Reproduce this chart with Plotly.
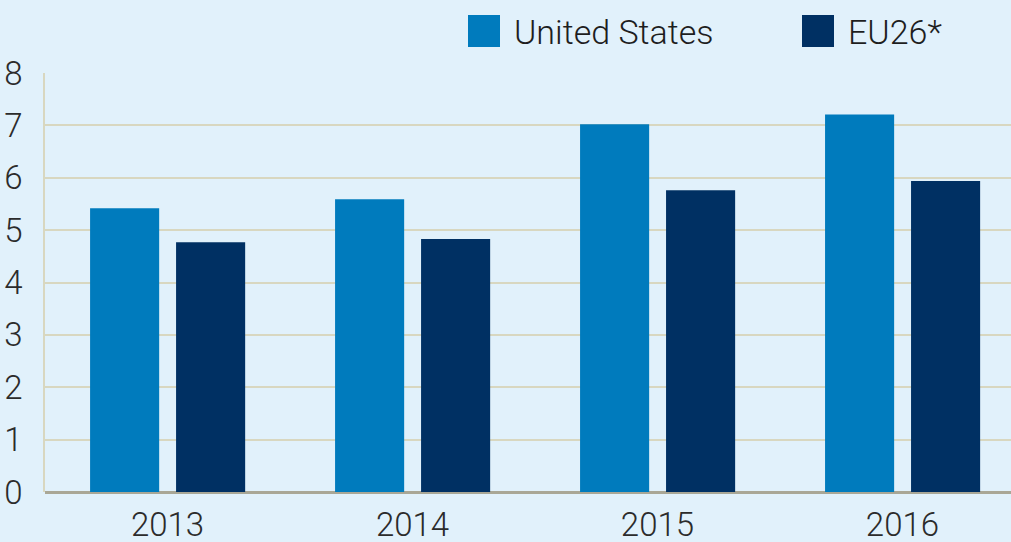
import plotly.graph_objects as go

years = ["2013", "2014", "2015", "2016"]
us_values = [5.42, 5.59, 7.02, 7.21]
eu_values = [4.77, 4.83, 5.76, 5.94]
series_names = ["United States", "EU26*"]
y_ticks = [0, 1, 2, 3, 4, 5, 6, 7, 8]

US_COLOR = "#007bbd"
EU_COLOR = "#003063"
BG = "#e1f1fb"
FONT = dict(family="Roboto, DejaVu Sans, sans-serif", color="#2b2b2b", size=33, weight=300)

fig = go.Figure()
fig.add_trace(go.Bar(x=years, y=us_values, name=series_names[0], marker_color=US_COLOR,
                     marker_line_width=0, width=0.282, offset=-0.316, showlegend=False))
fig.add_trace(go.Bar(x=years, y=eu_values, name=series_names[1], marker_color=EU_COLOR,
                     marker_line_width=0, width=0.282, offset=0.035, showlegend=False))

fig.update_layout(
    width=1011, height=542,
    margin=dict(l=45, r=0, t=73, b=50),
    paper_bgcolor=BG, plot_bgcolor=BG,
    font=FONT,
    barmode="group",
)
fig.update_xaxes(
    type="category", range=[-0.5, 3.443], automargin=False,
    showgrid=False, showline=False, zeroline=False,
    ticks="", ticklabelstandoff=10, tickfont=FONT,
)
fig.update_yaxes(
    range=[0, 8], tickvals=y_ticks, automargin=False,
    showgrid=True, gridcolor="#d8d7c0", gridwidth=1.5,
    showline=True, linecolor="#d8d7c0", linewidth=1.5,
    zeroline=True, zerolinecolor="#a9a796", zerolinewidth=2.5,
    ticks="", ticklabelstandoff=14, tickfont=FONT,
)

# legend drawn manually (large square swatches), pixel -> paper conversion
PL, PW, PB, PH = 45, 966, 492, 419
def px(x):
    return (x - PL) / PW
def py(y):
    return (PB - y) / PH

legend_items = [(series_names[0], US_COLOR, 468), (series_names[1], EU_COLOR, 802)]
for name, color, x0 in legend_items:
    fig.add_shape(type="rect", xref="paper", yref="paper",
                  x0=px(x0), x1=px(x0 + 32), y0=py(47), y1=py(15),
                  fillcolor=color, line_width=0, layer="above")
    fig.add_annotation(text=name, xref="paper", yref="paper",
                       x=px(x0 + 44), y=py(32),
                       xanchor="left", yanchor="middle", showarrow=False,
                       font=dict(family="Roboto, DejaVu Sans, sans-serif", size=34,
                                 color="#1e1e1e", weight=300))

fig.write_html("out.html", config={"displayModeBar": False},
               post_script="document.body.style.margin='0';")
